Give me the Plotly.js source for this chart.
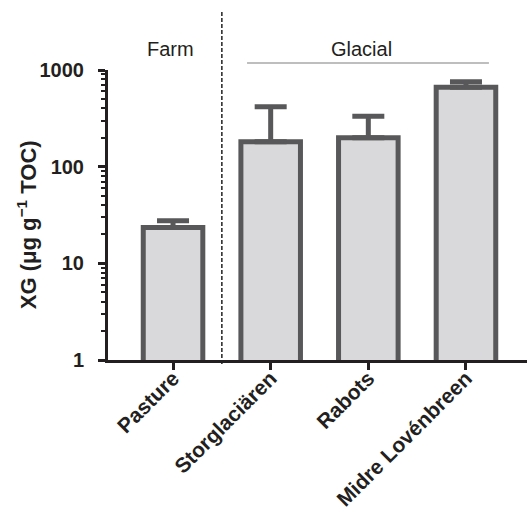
<!DOCTYPE html>
<html>
<head>
<meta charset="utf-8">
<script src="https://cdn.plot.ly/plotly-3.0.1.min.js"></script>
<style>
  html, body { margin: 0; padding: 0; background: #ffffff; }
  #chart { width: 528px; height: 508px; }
</style>
</head>
<body>
<div id="chart"></div>
<script>
// ---- data ----
const sites = ["Pasture", "Storglaciären", "Rabots", "Midre Lovénbreen"];
const xgMean = [23.5, 181, 199, 662];
const xgErrPlus = [4.0, 236, 133, 95];
const xgErrMinus = [0, 0, 0, 0];
const yTickVals = [1, 10, 100, 1000];
const yTickText = ["1", "10", "100", "1000"];
const groupLabels = ["Farm", "Glacial"];
const yTitle = "XG (μg g<sup>−1</sup> TOC)";

const ink = "#231f20";
const barEdge = "#58585a";
const barFill = "#d9d9db";
const fontFam = "Liberation Sans, Arial, Helvetica, sans-serif";
const xRange = [-0.666, 3.625];

const bars = {
  type: "bar",
  x: sites,
  y: xgMean,
  width: 0.61,
  marker: { color: barFill, line: { color: barEdge, width: 5 } },
  error_y: {
    type: "data",
    symmetric: false,
    array: xgErrPlus,
    arrayminus: xgErrMinus,
    color: barEdge,
    thickness: 5,
    width: 16
  },
  hoverinfo: "x+y"
};

// invisible companion trace that only carries the category labels (drawn on an overlaid axis without ticks)
const labelCarrier = {
  type: "bar",
  x: sites,
  y: xgMean,
  xaxis: "x2",
  yaxis: "y",
  width: 0.61,
  opacity: 0,
  marker: { color: "rgba(0,0,0,0)" },
  hoverinfo: "skip",
  showlegend: false
};

const layout = {
  width: 528,
  height: 508,
  margin: { l: 108, r: 1, t: 70, b: 148 },
  paper_bgcolor: "#ffffff",
  plot_bgcolor: "#ffffff",
  showlegend: false,
  barmode: "overlay",
  font: { family: fontFam, color: ink, size: 20 },
  xaxis: {
    type: "category",
    range: xRange,
    showline: true,
    linecolor: ink,
    linewidth: 3,
    ticks: "outside",
    ticklen: 7,
    tickwidth: 3,
    tickcolor: ink,
    showticklabels: false,
    showgrid: false,
    zeroline: false,
    fixedrange: true
  },
  xaxis2: {
    type: "category",
    overlaying: "x",
    anchor: "y",
    side: "bottom",
    range: xRange,
    showline: false,
    ticks: "",
    tickangle: -45,
    ticklabelstandoff: 1,
    tickfont: { family: fontFam, size: 21, color: ink, weight: "bold" },
    showgrid: false,
    zeroline: false,
    fixedrange: true
  },
  yaxis: {
    type: "log",
    range: [0, 3],
    showline: true,
    linecolor: ink,
    linewidth: 3,
    ticks: "outside",
    ticklen: 7,
    tickwidth: 3,
    tickcolor: ink,
    tickmode: "array",
    tickvals: yTickVals,
    ticktext: yTickText,
    ticklabelstandoff: 10,
    tickfont: { family: fontFam, size: 20, color: ink, weight: "bold" },
    minor: { ticks: "outside", ticklen: 4, tickwidth: 2, tickcolor: ink, dtick: "D1", showgrid: false },
    showgrid: false,
    zeroline: false,
    fixedrange: true
  },
  shapes: [
    {
      type: "line", xref: "x", yref: "paper",
      x0: 0.5, x1: 0.5, y0: -0.014, y1: 1.2,
      line: { color: "#222222", width: 1.5, dash: "4px,2px" }
    },
    {
      type: "line", xref: "x", yref: "paper",
      x0: 0.758, x1: 3.235, y0: 1.024, y1: 1.024,
      line: { color: "#a8a8a8", width: 1.5 }
    }
  ],
  annotations: [
    {
      text: groupLabels[0], xref: "x", yref: "paper", x: -0.03, y: 1.072,
      xanchor: "center", yanchor: "middle", showarrow: false,
      font: { family: fontFam, size: 20, color: ink }
    },
    {
      text: groupLabels[1], xref: "x", yref: "paper", x: 1.935, y: 1.072,
      xanchor: "center", yanchor: "middle", showarrow: false,
      font: { family: fontFam, size: 20, color: ink }
    },
    {
      text: yTitle, xref: "paper", yref: "paper", x: -0.193, y: 0.4655,
      xanchor: "center", yanchor: "middle", textangle: -90, showarrow: false,
      font: { family: fontFam, size: 22, color: ink, weight: "bold" }
    }
  ]
};

Plotly.newPlot("chart", [labelCarrier, bars], layout, { displayModeBar: false, staticPlot: true });
</script>
</body>
</html>
